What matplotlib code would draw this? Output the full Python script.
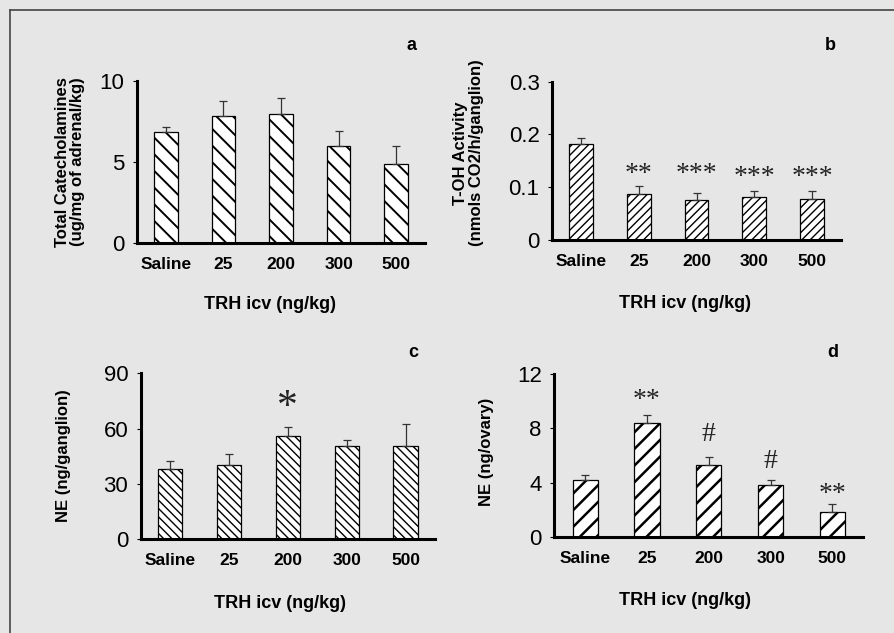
import matplotlib
matplotlib.use("Agg")
import matplotlib.pyplot as plt
from matplotlib.lines import Line2D

plt.rcParams["font.family"] = ["Liberation Sans", "DejaVu Sans"]
plt.rcParams["hatch.linewidth"] = 1.5

# groups on the x axis, same for all four panels
doses = ["Saline", "25", "200", "300", "500"]

# a: total catecholamines
cat_mean = [6.85, 7.86, 7.98, 6.0, 4.86]
cat_err = [0.3, 0.9, 1.0, 0.93, 1.15]

# b: T-OH activity
toh_mean = [0.181, 0.087, 0.076, 0.082, 0.078]
toh_err = [0.012, 0.015, 0.013, 0.010, 0.014]
toh_sig = ["", "**", "***", "***", "***"]
toh_sig_y = [0, 0.134, 0.134, 0.129, 0.128]

# c: NE in ganglion
neg_mean = [38.0, 40.4, 56.0, 50.7, 50.7]
neg_err = [4.5, 5.8, 5.0, 3.3, 11.8]
neg_sig = ["", "", "*", "", ""]
neg_sig_y = [0, 0, 75.5, 0, 0]

# d: NE in ovary
neo_mean = [4.21, 8.42, 5.31, 3.84, 1.84]
neo_err = [0.4, 0.57, 0.57, 0.35, 0.58]
neo_sig = ["", "**", "#", "#", "**"]
neo_sig_y = [0, 10.46, 7.52, 5.56, 3.53]


def draw_panel(ax, means, errs, hatch, yticks, yticklabels, ylabel, ylab_xy,
               xlab_xy, hatch_lw):
    """bar panel with upper error bars only"""
    x = range(len(doses))
    bars = ax.bar(x, means, width=0.41, color="white", edgecolor="black",
                  linewidth=0.9, hatch=hatch, zorder=2)
    for b in bars:
        if hasattr(b, "set_hatch_linewidth"):
            b.set_hatch_linewidth(hatch_lw)
    ax.errorbar(x, means, yerr=[[0] * len(errs), errs], fmt="none",
                ecolor="#333333", elinewidth=0.9, capsize=3, capthick=0.9,
                zorder=3)
    ax.set_xlim(-0.5, 4.5)
    ax.set_ylim(yticks[0], yticks[-1])
    ax.set_yticks(yticks)
    ax.set_yticklabels(yticklabels, fontsize=16)
    ax.set_xticks(list(x))
    ax.set_xticklabels(doses, fontsize=12.5, fontweight="bold")
    ax.tick_params(axis="x", length=0, pad=10)
    ax.tick_params(axis="y", length=3, width=0.8, pad=6)
    for s in ["top", "right"]:
        ax.spines[s].set_visible(False)
    for s in ["left", "bottom"]:
        ax.spines[s].set_linewidth(2.2)
    ax.patch.set_visible(False)
    ax.set_ylabel(ylabel, fontsize=12, fontweight="bold", va="center",
                  multialignment="center", linespacing=1.05)
    ax.yaxis.set_label_coords(*ylab_xy)
    ax.set_xlabel("TRH icv (ng/kg)", fontsize=13, fontweight="bold",
                  va="center")
    ax.xaxis.set_label_coords(*xlab_xy)


def add_sig(ax, marks, heights, size):
    """significance marks above bars"""
    for i, (m, h) in enumerate(zip(marks, heights)):
        if not m:
            continue
        # asterisks sit high in the line box, pull them down a little
        dy = -0.19 * size if "*" in m else 0
        ax.annotate(m, (i, h), xytext=(0, dy), textcoords="offset points",
                    ha="center", va="center", fontsize=size,
                    family="Liberation Serif", color="#222222")


fig = plt.figure(figsize=(8.95, 6.33), dpi=100, facecolor="#e6e6e6")

ax_a = fig.add_axes([0.1531, 0.6161, 0.3218, 0.2559])
ax_b = fig.add_axes([0.6168, 0.6209, 0.3229, 0.2501])
ax_c = fig.add_axes([0.1572, 0.1480, 0.3288, 0.2622])
ax_d = fig.add_axes([0.6193, 0.1512, 0.3453, 0.2580])

draw_panel(ax_a, cat_mean, cat_err, "\\\\", [0, 5, 10], ["0", "5", "10"],
           "Total Catecholamines\n(ug/mg of adrenal/kg)", (-0.233, 0.5),
           (0.46, -0.377), 1.4)
draw_panel(ax_b, toh_mean, toh_err, "////", [0, 0.1, 0.2, 0.3],
           ["0", "0.1", "0.2", "0.3"],
           "T-OH Activity\n(nmols CO2/h/ganglion)", (-0.29, 0.55),
           (0.46, -0.40), 1.0)
draw_panel(ax_c, neg_mean, neg_err, "\\\\\\\\", [0, 30, 60, 90],
           ["0", "30", "60", "90"], "NE (ng/ganglion)", (-0.264, 0.503),
           (0.473, -0.384), 1.0)
draw_panel(ax_d, neo_mean, neo_err, "//", [0, 4, 8, 12],
           ["0", "4", "8", "12"], "NE (ng/ovary)", (-0.219, 0.52),
           (0.423, -0.384), 1.8)

add_sig(ax_b, toh_sig, toh_sig_y, 20)
add_sig(ax_c, neg_sig, neg_sig_y, 30)
add_sig(ax_d, neo_sig, neo_sig_y, 20)

# panel letters
for letter, px, py in [("a", 412, 45), ("b", 830, 45), ("c", 413, 353),
                       ("d", 833, 353)]:
    fig.text(px / 895, 1 - py / 633, letter, fontsize=13, fontweight="bold",
             ha="center", va="center")

# frame, only top and left edges are in view
fig.add_artist(Line2D([10 / 895, 10 / 895], [0, 1 - 10 / 633],
                      transform=fig.transFigure, color="#444444", lw=1.2))
fig.add_artist(Line2D([10 / 895, 1], [1 - 10 / 633, 1 - 10 / 633],
                      transform=fig.transFigure, color="#444444", lw=1.2))

fig.savefig("out.png", dpi=100, facecolor=fig.get_facecolor())
